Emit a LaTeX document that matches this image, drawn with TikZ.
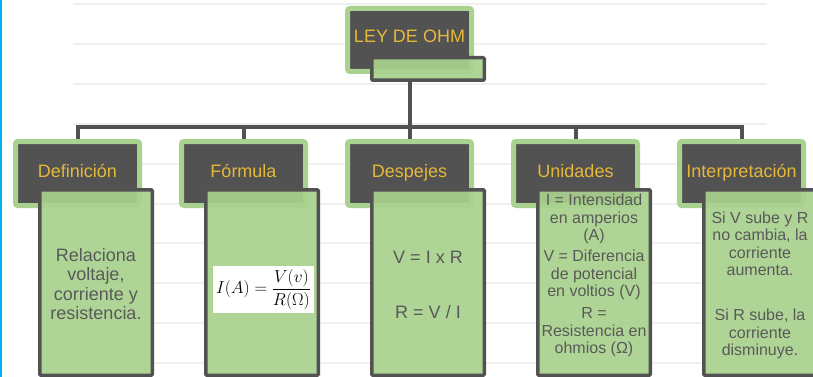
\documentclass[tikz,border=0pt]{standalone}
\usepackage{amsmath}
\usepackage{fontspec}
\setmainfont{Liberation Sans}
\usepackage{tikz}
\usetikzlibrary{backgrounds}
\definecolor{ohmdark}{RGB}{82,82,82}
\definecolor{ohmgreen}{RGB}{169,210,142}
\definecolor{ohmgold}{RGB}{230,184,56}
\definecolor{ohmtext}{RGB}{89,89,89}
\definecolor{ohmrule}{RGB}{240,240,240}
\definecolor{ohmblue}{RGB}{0,176,240}

\tikzset{
	header/.style={draw=ohmgreen, line width=5pt, fill=ohmdark, rounded corners=2.5pt, minimum width=124pt, minimum height=64pt, inner sep=0pt, text=ohmgold, font=\fontsize{18}{20}\selectfont, text height=13pt, text depth=6pt},
	bodybox/.style={draw=ohmdark, line width=3.5pt, fill=ohmgreen, fill opacity=0.92, rounded corners=1pt, minimum width=112.5pt, minimum height=185.5pt, inner sep=0pt},
	bodytext/.style={text=ohmtext, align=center, inner sep=0pt, font=\fontsize{18}{19.5}\selectfont},
	smalltext/.style={bodytext, font=\fontsize{16}{17.5}\selectfont},
	conn/.style={draw=ohmdark, line width=4pt},
}

\begin{document}
\begin{tikzpicture}[x=1pt, y=-1pt]
	\useasboundingbox (0,0) rectangle (813,377);
	\begin{scope}[on background layer]
		\fill[white] (0,0) rectangle (813,377);
		\foreach \i in {0,...,9}
		{
			\draw[ohmrule, line width=2pt] (73,4+39.9*\i) -- (767,4+39.9*\i);
		}
	\end{scope}
	\draw[ohmblue, line width=1.7pt] (0.85,0) -- (0.85,377);

	\node[header, text depth=8pt, minimum height=63pt] (ohm) at (409.5,40) {LEY DE OHM};
	\node[bodybox, minimum height=22.5pt] (ohmtab) at (428,69) {};

	\foreach \x/\n/\t in {77.5/def/Definición, 243.5/form/Fórmula, 409.5/desp/Despejes, 575.5/unid/Unidades, 741.5/interp/Interpretación}
	{
		\node[header] (\n) at (\x,173.5) {\t};
		\node[bodybox] (\n-body) at (\x+18.5,282.5) {};
	}

	\node[bodytext] (def-txt) at (96,284) {Relaciona\\ voltaje,\\ corriente y\\ resistencia.};
	\node[fill=white, minimum width=101pt, minimum height=47pt, inner sep=0pt, font=\fontsize{17.28}{20}\selectfont] (form-eq) at (263.5,289.5) {$\displaystyle I(A)=\frac{V(v)}{R(\Omega)}$};
	\node[bodytext] (desp-txt) at (428,284.5) {V = I x R\\[35.5pt] R = V / I};
	\node[smalltext] (unid-txt) at (594,275.5) {I = Intensidad\\ en amperios\\ (A)\\[3.5pt] V = Diferencia\\ de potencial\\ en voltios (V)\\[4.5pt] R =\\ Resistencia en\\ ohmios (Ω)};
	\node[smalltext] (interp-txt) at (760,285.5) {Si V sube y R\\ no cambia, la\\ corriente\\ aumenta.\\[27.5pt] Si R sube, la\\ corriente\\ disminuye.};

	% connectors behind the boxes
	\begin{scope}[on background layer]
		\coordinate (bar) at (409.5,127);
		\draw[conn] (ohm |- ohmtab.south) -- (bar);
		\foreach \n in {def,form,desp,unid,interp}
			\draw[conn] (bar) -| (\n.north);
	\end{scope}
\end{tikzpicture}
\end{document}
